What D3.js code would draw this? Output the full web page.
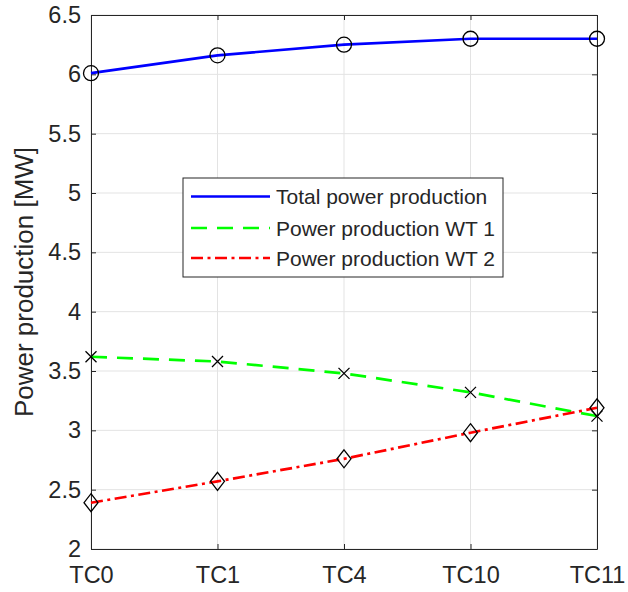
<!DOCTYPE html>
<html>
<head>
<meta charset="utf-8">
<title>Power production</title>
<script src="https://d3js.org/d3.v7.min.js"></script>
<style>
  body { margin: 0; background: #fff; }
  text { font-family: "Liberation Sans", Arial, sans-serif; fill: #262626; }
</style>
</head>
<body>
<svg width="628" height="592"></svg>
<script>
// data
var cases = ["TC0", "TC1", "TC4", "TC10", "TC11"];
var totalPower = [6.01, 6.16, 6.25, 6.30, 6.30];
var wt1Power = [3.62, 3.58, 3.48, 3.32, 3.12];
var wt2Power = [2.39, 2.57, 2.76, 2.98, 3.19];
var yTicks = [2, 2.5, 3, 3.5, 4, 4.5, 5, 5.5, 6, 6.5];
var seriesNames = ["Total power production", "Power production WT 1", "Power production WT 2"];

var svg = d3.select("svg");
var plotL = 91, plotR = 597, plotT = 15, plotB = 549;

var x = d3.scalePoint().domain(cases).range([plotL, plotR]);
var y = d3.scaleLinear().domain([2, 6.5]).range([plotB, plotT]);

// grid
var grid = svg.append("g").attr("stroke", "#e3e3e3").attr("stroke-width", 1);
grid.selectAll(".gx").data(cases).enter().append("line")
    .attr("x1", function(d) { return x(d); }).attr("x2", function(d) { return x(d); })
    .attr("y1", plotT).attr("y2", plotB);
grid.selectAll(".gy").data(yTicks).enter().append("line")
    .attr("x1", plotL).attr("x2", plotR)
    .attr("y1", function(d) { return y(d); }).attr("y2", function(d) { return y(d); });

// axes (ticks inside, box on)
var axisColor = "#262626";
var ax = svg.append("g");
ax.append("g").attr("transform", "translate(0," + plotB + ")")
  .call(d3.axisBottom(x).tickSizeInner(-5).tickSizeOuter(0).tickPadding(17));
ax.append("g").attr("transform", "translate(" + plotL + ",0)")
  .call(d3.axisLeft(y).tickValues(yTicks).tickFormat(d3.format("")).tickSizeInner(-5).tickSizeOuter(0).tickPadding(10));
ax.append("g").attr("transform", "translate(0," + plotT + ")")
  .call(d3.axisTop(x).tickSizeInner(-5).tickSizeOuter(0).tickFormat(""));
ax.append("g").attr("transform", "translate(" + plotR + ",0)")
  .call(d3.axisRight(y).tickValues(yTicks).tickSizeInner(-5).tickSizeOuter(0).tickFormat(""));
ax.selectAll(".domain, .tick line").attr("stroke", axisColor).attr("stroke-width", 1);
ax.selectAll(".tick text").attr("font-size", "23.5px").attr("fill", axisColor)
  .style("font-family", "'Liberation Sans', Arial, sans-serif");

// y label
svg.append("text")
  .attr("transform", "translate(33," + ((plotT + plotB) / 2) + ") rotate(-90)")
  .attr("text-anchor", "middle")
  .attr("font-size", "26px")
  .text("Power production [MW]");

var line = d3.line().x(function(d, i) { return x(cases[i]); }).y(function(d) { return y(d); });

var styles = [
  { color: "#0000ff", dash: null },
  { color: "#00ff00", dash: "16,10" },
  { color: "#ff0000", dash: "12,4.5,3,4.5" }
];
var allSeries = [totalPower, wt1Power, wt2Power];

allSeries.forEach(function(s, k) {
  svg.append("path").datum(s)
    .attr("d", line)
    .attr("fill", "none")
    .attr("stroke", styles[k].color)
    .attr("stroke-width", 2.7)
    .attr("stroke-dasharray", styles[k].dash);
});

// markers
svg.selectAll(".mo").data(totalPower).enter().append("circle")
  .attr("cx", function(d, i) { return x(cases[i]); })
  .attr("cy", function(d) { return y(d); })
  .attr("r", 7.5).attr("fill", "none").attr("stroke", "#000").attr("stroke-width", 1.3);

svg.selectAll(".mx").data(wt1Power).enter().append("path")
  .attr("transform", function(d, i) { return "translate(" + x(cases[i]) + "," + y(d) + ")"; })
  .attr("d", "M-5.5,-5.5L5.5,5.5M-5.5,5.5L5.5,-5.5")
  .attr("stroke", "#000").attr("stroke-width", 1.3);

svg.selectAll(".md").data(wt2Power).enter().append("path")
  .attr("transform", function(d, i) { return "translate(" + x(cases[i]) + "," + y(d) + ")"; })
  .attr("d", "M0,-9L7,0L0,9L-7,0Z")
  .attr("fill", "none").attr("stroke", "#000").attr("stroke-width", 1.3);

// legend
var lg = svg.append("g").attr("transform", "translate(183,178)");
lg.append("rect").attr("width", 320).attr("height", 99)
  .attr("fill", "#fff").attr("stroke", "#262626").attr("stroke-width", 1);
var rowY = [18.5, 50, 80];
seriesNames.forEach(function(name, k) {
  lg.append("line")
    .attr("x1", 8).attr("x2", 87)
    .attr("y1", rowY[k]).attr("y2", rowY[k])
    .attr("stroke", styles[k].color).attr("stroke-width", 2.7)
    .attr("stroke-dasharray", styles[k].dash);
  lg.append("text")
    .attr("x", 93).attr("y", rowY[k] + 7.5)
    .attr("font-size", "21px").attr("fill", "#000")
    .text(name);
});
</script>
</body>
</html>
